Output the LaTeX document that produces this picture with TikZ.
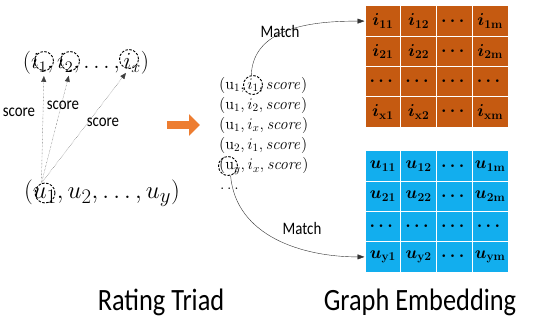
\RequirePackage{fix-cm}
\documentclass[tikz,border=0pt]{standalone}
\usepackage{amsmath,amssymb,bm}
\usepackage[no-math]{fontspec}
\setmainfont{Carlito}
\newfontfamily\labelfont{Carlito}[FakeStretch=0.85]
\usetikzlibrary{positioning,arrows.meta,calc}
\definecolor{itemOrange}{HTML}{C55A11}
\definecolor{userBlue}{HTML}{12AEEE}
\definecolor{flowOrange}{HTML}{ED7D31}
\newcommand{\triple}[1]{\scalebox{1.12}{$#1$}}

\begin{document}
\begin{tikzpicture}[
    x=1pt, y=-1pt,
    cell/.style={draw=white, line width=1pt, minimum width=35.75pt, minimum height=30.25pt, inner sep=0pt, font=\fontsize{17.28}{20}\selectfont},
    pick/.style={draw, dashed, dash pattern=on 2.5pt off 1.5pt, circle, line width=0.9pt, minimum size=19pt, inner sep=0pt},
    tuple/.style={inner sep=0pt, font=\fontsize{23}{26}\selectfont},
    triad/.style={anchor=west, inner sep=0pt, font=\fontsize{14.4}{17}\selectfont},
    lbl/.style={inner sep=1pt, font=\labelfont\fontsize{17.5}{20}\selectfont},
    title/.style={inner sep=0pt, font=\labelfont\fontsize{31}{36}\selectfont},
    scorearr/.style={densely dotted, thin, black!75, -{Triangle[length=6pt,width=5pt]}, shorten >=5pt},
    matcharr/.style={thin, black!80, -{Triangle[length=7pt,width=5pt]}},
    flowarr/.style={line width=8pt, flowOrange, -{Triangle[length=11pt,width=21pt]}}
  ]
  \useasboundingbox (0,0) rectangle (550,325);

  % rating triad (left)
  \node[tuple] (items) at (86,63) {$(i_1,i_2,\ldots,i_x)$};
  \node[tuple, font=\fontsize{24.88}{28}\selectfont] (users) at (102,193) {$(u_1,u_2,\ldots,u_y)$};
  \node[pick] (ci1) at (44,61) {};
  \node[pick] (ci2) at (70,61) {};
  \node[pick] (cix) at (129,59) {};
  \node[pick, minimum size=20pt] (cu1) at (45,193) {};

  \draw[scorearr] (cu1.110) -- (ci1.south);
  \draw[scorearr] (cu1.110) -- (ci2.south);
  \draw[scorearr] (cu1.110) -- (cix.south);
  \node[lbl] (s1) at (19,112) {score};
  \node[lbl] (s2) at (63,105) {score};
  \node[lbl] (s3) at (103,122) {score};

  % flow arrow
  \coordinate (fa) at (167,125);
  \coordinate (fb) at (200,125);
  \draw[flowarr] (fa) -- (fb);

  % triad list
  \node[triad] (t1) at (219,85) {\triple{(\mathrm{u}_1,i_1,\mathit{score})}};
  \node[triad] (t2) at (219,105) {\triple{(\mathrm{u}_1,i_2,\mathit{score})}};
  \node[triad] (t3) at (219,125) {\triple{(\mathrm{u}_1,i_x,\mathit{score})}};
  \node[triad] (t4) at (219,145) {\triple{(\mathrm{u}_2,i_1,\mathit{score})}};
  \node[triad] (t5) at (219,166) {\triple{(\mathrm{u}_y,i_x,\mathit{score})}};
  \node[triad] (tdots) at (220,189) {\triple{\ldots}};
  \node[pick] (mi1) at (253,85) {};
  \node[pick] (muy) at (228,166) {};

  % item embedding
  \foreach \e [count=\c] in {{\bm{i}_{\mathbf{11}}},{\bm{i}_{\mathbf{12}}},{\bm{\cdots}},{\bm{i}_{\mathbf{1m}}}}
    \node[cell, fill=itemOrange] (o1\c) at ({365+35.75*(\c-0.5)},21.1) {$\e$};
  \foreach \e [count=\c] in {{\bm{i}_{\mathbf{21}}},{\bm{i}_{\mathbf{22}}},{\bm{\cdots}},{\bm{i}_{\mathbf{2m}}}}
    \node[cell, fill=itemOrange] (o2\c) at ({365+35.75*(\c-0.5)},51.4) {$\e$};
  \foreach \e [count=\c] in {{\bm{\cdots}},{\bm{\cdots}},{\bm{\cdots}},{\bm{\cdots}}}
    \node[cell, fill=itemOrange] (o3\c) at ({365+35.75*(\c-0.5)},81.6) {$\e$};
  \foreach \e [count=\c] in {{\bm{i}_{\mathbf{x1}}},{\bm{i}_{\mathbf{x2}}},{\bm{\cdots}},{\bm{i}_{\mathbf{xm}}}}
    \node[cell, fill=itemOrange] (o4\c) at ({365+35.75*(\c-0.5)},111.9) {$\e$};

  % user embedding
  \foreach \e [count=\c] in {{\bm{u}_{\mathbf{11}}},{\bm{u}_{\mathbf{12}}},{\bm{\cdots}},{\bm{u}_{\mathbf{1m}}}}
    \node[cell, fill=userBlue] (b1\c) at ({365+35.75*(\c-0.5)},166.1) {$\e$};
  \foreach \e [count=\c] in {{\bm{u}_{\mathbf{21}}},{\bm{u}_{\mathbf{22}}},{\bm{\cdots}},{\bm{u}_{\mathbf{2m}}}}
    \node[cell, fill=userBlue] (b2\c) at ({365+35.75*(\c-0.5)},196.4) {$\e$};
  \foreach \e [count=\c] in {{\bm{\cdots}},{\bm{\cdots}},{\bm{\cdots}},{\bm{\cdots}}}
    \node[cell, fill=userBlue] (b3\c) at ({365+35.75*(\c-0.5)},226.6) {$\e$};
  \foreach \e [count=\c] in {{\bm{u}_{\mathbf{y1}}},{\bm{u}_{\mathbf{y2}}},{\bm{\cdots}},{\bm{u}_{\mathbf{ym}}}}
    \node[cell, fill=userBlue] (b4\c) at ({365+35.75*(\c-0.5)},256.9) {$\e$};

  % match links
  \draw[matcharr] (mi1.100) to[out=88,in=180] (o11.west);
  \draw[matcharr] (muy.-75) to[out=-85,in=180] (b41.west);
  \node[lbl] (m1) at (280,31) {Match};
  \node[lbl] (m2) at (302,228) {Match};

  % titles
  \node[title] (rt) at (161,302) {Rating Triad};
  \node[title] (ge) at (420,302) {Graph Embedding};
\end{tikzpicture}
\end{document}
